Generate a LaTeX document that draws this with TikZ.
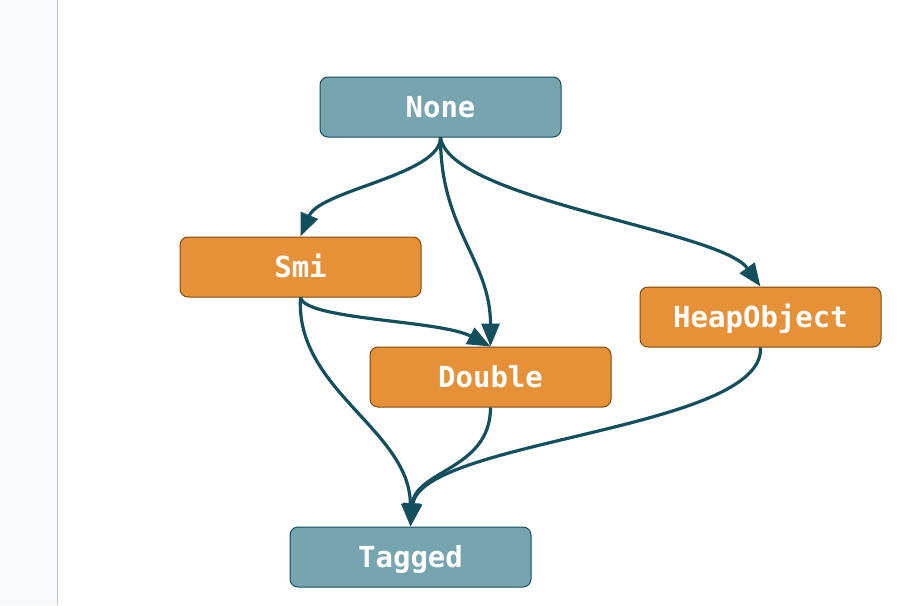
\documentclass[tikz,border=0pt]{standalone}
\usepackage{fontspec}
\setmonofont{DejaVu Sans Mono}
\usetikzlibrary{arrows.meta}
\definecolor{tealfill}{HTML}{76A5AF}
\definecolor{tealline}{HTML}{134F5C}
\definecolor{orangefill}{HTML}{E69138}
\definecolor{orangeline}{HTML}{7F4A10}
\definecolor{edgecol}{HTML}{134F5C}
\definecolor{stripfill}{HTML}{F8F9FA}
\definecolor{stripline}{HTML}{C8C8C8}
\tikzset{
  basebox/.style={rectangle, rounded corners=8pt, minimum width=241pt, minimum height=60pt, inner sep=0pt, line width=1pt,
    text height=24pt, text depth=2.5pt,
    font=\ttfamily\bfseries\fontsize{29}{34}\selectfont, text=white},
  tealbox/.style={basebox, fill=tealfill, draw=tealline},
  orangebox/.style={basebox, fill=orangefill, draw=orangeline},
  edge/.style={draw=edgecol, line width=3.2pt, -{Triangle[length=23pt,width=18pt]}}
}
\begin{document}
\begin{tikzpicture}[x=1pt,y=-1pt]
\useasboundingbox (0,0) rectangle (904,605);
\fill[white] (0,0) rectangle (904,605);
\fill[stripfill] (0,0) rectangle (57,605);
\draw[stripline, line width=1pt] (57,0) -- (57,605);
\node[tealbox] (none) at (440.5,107) {None};
\node[orangebox] (smi) at (300.5,267) {Smi};
\node[orangebox] (double) at (490.5,377) {Double};
\node[orangebox] (heap) at (760.5,317) {HeapObject};
\node[tealbox] (tagged) at (410.5,557) {Tagged};
\draw[edge] (none.south) .. controls (440.5,175) and (320,190) .. (smi.north);
\draw[edge] (none.south) .. controls (440.5,230) and (490.5,260) .. (double.north);
\draw[edge] (none.south) .. controls (450,200) and (720,230) .. (heap.north);
\draw[edge] (smi.south) .. controls (305,320) and (440,320) .. (double.north);
\draw[edge] (smi.south) .. controls (295,390) and (410,430) .. (tagged.north);
\draw[edge] (double.south) .. controls (490.5,470) and (415,470) .. (tagged.north);
\draw[edge] (heap.south) .. controls (765,430) and (420,440) .. (tagged.north);
\end{tikzpicture}
\end{document}
